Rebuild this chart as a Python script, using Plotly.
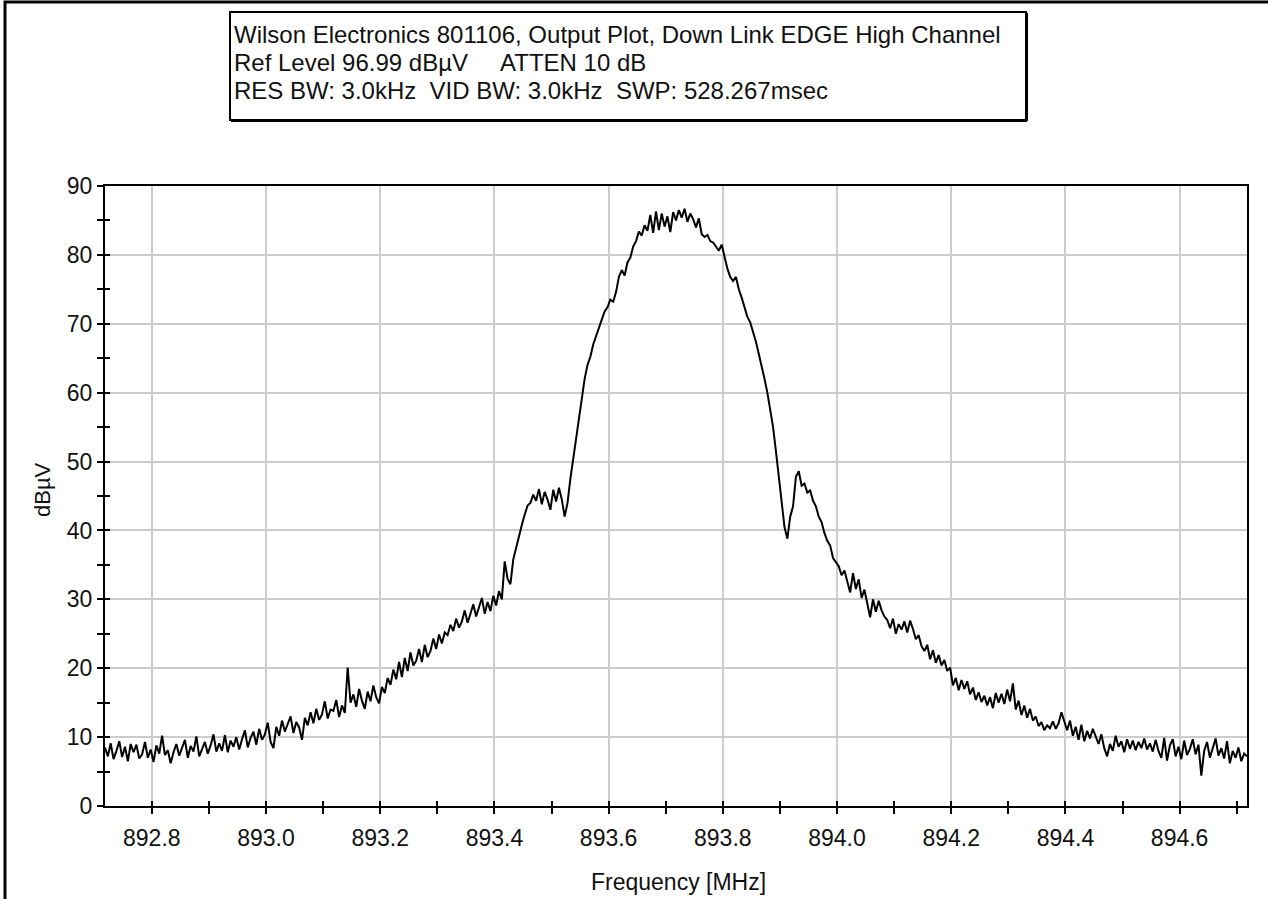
import plotly.graph_objects as go

# Frequency axis (MHz): sweep start and step of the trace points
freq_start = 892.718
freq_step = 0.005

level = [
    8.5, 7.2, 9.1, 6.8, 8.0, 9.4, 7.1, 8.6, 6.5, 9.0, 7.8, 8.9, 6.9, 7.5, 9.3, 7.0, 8.2, 6.4, 8.8, 7.6,
    10.2, 7.4, 8.1, 6.2, 7.8, 9.0, 7.3, 8.5, 9.6, 7.0, 8.7, 7.9, 10.1, 7.2, 8.4, 9.3, 7.6, 8.8, 10.4, 7.9,
    9.1, 8.0, 10.3, 7.8, 9.5, 8.6, 10.0, 8.2, 9.7, 11.0, 8.5, 9.9, 10.8, 8.9, 11.2, 9.6, 10.4, 12.1, 9.3, 8.4,
    11.5, 10.2, 12.4, 10.8, 11.9, 13.0, 10.6, 12.2, 11.4, 9.6, 12.8, 11.7, 13.6, 12.0, 14.1, 12.5, 13.3, 15.2, 12.7, 14.0,
    13.8, 15.4, 12.9, 14.6, 13.5, 20.1, 15.0, 16.2, 14.4, 17.0, 15.3, 14.1, 16.6, 15.2, 17.5, 15.8, 14.9, 17.3, 16.4, 18.6,
    17.6, 19.8, 18.4, 20.9, 18.7, 21.5, 19.6, 22.3, 20.4, 21.1, 22.8, 20.9, 23.4, 21.6, 22.5, 24.3, 22.8, 24.9, 23.6, 25.2,
    24.8, 26.3, 25.4, 27.2, 25.9, 26.8, 28.4, 26.6, 27.9, 29.3, 27.5, 28.8, 30.2, 27.9, 29.6, 28.3, 30.5, 29.1, 31.2, 30.0,
    35.5, 33.0, 32.2, 35.8, 37.5, 39.5, 40.8, 42.3, 43.6, 44.0, 45.2, 44.3, 46.0, 43.8, 45.6, 44.5, 43.0, 45.9, 44.2, 46.2,
    44.5, 42.0, 44.0, 47.5, 50.5, 53.5, 56.0, 59.0, 62.0, 64.0, 65.2, 67.0, 68.3, 69.5, 70.6, 71.8, 72.4, 73.5, 73.2, 74.6,
    76.8, 77.8, 77.0, 78.9, 79.6, 81.2, 82.0, 83.4, 82.8, 84.3, 83.5, 85.8, 83.2, 86.3, 83.6, 86.0, 84.1, 85.6, 83.3, 86.2,
    85.0, 86.5, 85.4, 86.7, 84.8, 86.0, 85.2, 84.0, 85.3, 83.0, 82.6, 82.9, 82.0, 81.8, 81.2, 80.6, 81.5, 79.8, 78.0, 76.8,
    76.2, 76.8, 75.0, 73.8, 72.5, 71.0, 70.2, 68.8, 67.4, 65.6, 64.0, 62.0, 60.0, 57.5, 55.0, 51.5, 48.0, 44.0, 40.5, 38.8,
    42.0, 43.5, 47.8, 48.6, 46.5, 46.8, 45.5, 45.8, 44.3, 43.5, 42.0, 41.2, 39.6, 38.5, 37.8, 36.0, 35.4, 34.8, 33.5, 34.2,
    32.6, 31.0, 33.8, 31.5, 32.9, 30.2, 31.4, 29.6, 27.4, 30.0, 28.2, 29.8, 28.4, 27.5, 27.0, 25.8, 27.2, 25.0, 26.4, 25.6,
    26.8, 25.2, 26.9, 25.7, 24.2, 24.8, 23.2, 22.5, 23.4, 21.3, 22.6, 20.8, 21.9, 20.4, 21.2, 19.6, 20.1, 17.5, 18.6, 16.8,
    18.3, 17.0, 18.1, 16.2, 17.2, 15.4, 16.5, 15.1, 16.0, 14.6, 15.8, 14.2, 16.4, 15.0, 16.3, 14.8, 16.9, 15.2, 17.8, 14.0,
    15.3, 13.2, 14.6, 12.8, 14.1, 12.4, 13.0, 11.6, 12.2, 11.0, 11.7, 11.3, 12.3, 11.2, 12.0, 13.6, 12.2, 11.0, 12.4, 10.2,
    11.5, 9.6, 11.8, 9.4, 10.9, 9.8, 11.2, 10.0, 9.0, 10.4, 8.4, 7.2, 9.0, 8.0, 10.2, 8.6, 9.4, 7.8, 9.7, 8.3,
    9.5, 8.1, 9.3, 8.4, 9.8, 8.2, 9.1, 7.9, 9.6, 8.0, 7.0, 9.9, 6.6, 8.8, 9.7, 7.2, 8.6, 6.8, 9.5, 7.4,
    8.3, 9.7, 7.5, 8.9, 4.4, 8.0, 9.3, 7.0, 8.6, 9.8, 7.3, 8.4, 6.9, 9.4, 6.2, 8.0, 7.0, 8.5, 6.5, 7.6,
    7.2,
]
freq = [round(freq_start + i * freq_step, 4) for i in range(len(level))]

x_range = [892.718, 894.718]
y_range = [0, 90]

title_lines = [
    "Wilson Electronics 801106, Output Plot, Down Link EDGE High Channel",
    "Ref Level 96.99 dBµV     ATTEN 10 dB",
    "RES BW: 3.0kHz  VID BW: 3.0kHz  SWP: 528.267msec",
]
x_title = "Frequency [MHz]"
y_title = "dBµV"

W, H = 1268, 899
L, R, T, B = 105, 1247, 186, 806


def px(xp):
    return (xp - L) / (R - L)


def py(yp):
    return (B - yp) / (B - T)


FONT = "Liberation Sans, Arial, sans-serif"

fig = go.Figure()
fig.add_trace(go.Scatter(x=freq, y=level, mode="lines",
                         line=dict(color="black", width=2),
                         showlegend=False, hoverinfo="skip"))
# dummy trace to activate overlay axes (inner tick halves)
fig.add_trace(go.Scatter(x=[None], y=[None], xaxis="x2", yaxis="y2",
                         mode="lines", showlegend=False, hoverinfo="skip"))

axis_common = dict(showline=True, linecolor="black", linewidth=2,
                   zeroline=False, tickcolor="black", tickwidth=2, ticklen=6,
                   tickfont=dict(family=FONT, size=23, color="#111"))

fig.update_layout(
    width=W, height=H,
    margin=dict(l=L, r=W - R, t=T, b=H - B, pad=0),
    paper_bgcolor="white", plot_bgcolor="white",
    font=dict(family=FONT, color="#111"),
    xaxis=dict(range=x_range, tick0=892.8, dtick=0.2, tickformat=".1f",
               ticks="outside", mirror=True, showgrid=True,
               gridcolor="#cccccc", gridwidth=1.5, ticklabelstandoff=4,
               minor=dict(tick0=892.7, dtick=0.1, ticks="outside", ticklen=6,
                          tickcolor="black", tickwidth=2, showgrid=False),
               **axis_common),
    yaxis=dict(range=y_range, tick0=0, dtick=10, ticks="outside", mirror=True,
               showgrid=True, gridcolor="#cccccc", gridwidth=1.5,
               minor=dict(tick0=0, dtick=5, ticks="outside", ticklen=6,
                          tickcolor="black", tickwidth=2, showgrid=False),
               **axis_common),
    xaxis2=dict(range=x_range, overlaying="x", anchor="y2", side="bottom",
                tick0=892.8, dtick=0.2, ticks="inside", ticklen=5,
                tickcolor="black", tickwidth=2, showticklabels=False,
                showgrid=False, showline=False, zeroline=False,
                minor=dict(tick0=892.7, dtick=0.1, ticks="inside", ticklen=5,
                           tickcolor="black", tickwidth=2)),
    yaxis2=dict(range=y_range, overlaying="y", anchor="x2", side="left",
                tick0=0, dtick=10, ticks="inside", ticklen=5,
                tickcolor="black", tickwidth=2, showticklabels=False,
                showgrid=False, showline=False, zeroline=False,
                minor=dict(tick0=0, dtick=5, ticks="inside", ticklen=5,
                           tickcolor="black", tickwidth=2)),
)

# outer frame (cut off at right/bottom)
fig.add_shape(type="rect", xref="paper", yref="paper",
              x0=px(5), x1=px(1280), y0=py(910), y1=py(2),
              line=dict(color="black", width=3), layer="above")
# title box
fig.add_shape(type="rect", xref="paper", yref="paper",
              x0=px(230), x1=px(1026), y0=py(120), y1=py(12),
              line=dict(color="black", width=2), layer="above")
fig.add_shape(type="line", xref="paper", yref="paper",
              x0=px(231), x1=px(1027), y0=py(121), y1=py(121),
              line=dict(color="black", width=2), layer="above")
fig.add_shape(type="line", xref="paper", yref="paper",
              x0=px(1027), x1=px(1027), y0=py(121), y1=py(13),
              line=dict(color="black", width=2), layer="above")

title_y = [35, 63, 91]
for line_text, ty in zip(title_lines, title_y):
    fig.add_annotation(xref="paper", yref="paper", x=px(232), y=py(ty),
                       xanchor="left", yanchor="middle", align="left",
                       showarrow=False, text=line_text,
                       font=dict(family=FONT, size=24, color="#111"))
fig.add_annotation(xref="paper", yref="paper", x=px(678), y=py(882),
                   xanchor="center", yanchor="middle", showarrow=False,
                   text=x_title, font=dict(family=FONT, size=23, color="#111"))
fig.add_annotation(xref="paper", yref="paper", x=px(42), y=py(490),
                   xanchor="center", yanchor="middle", showarrow=False,
                   textangle=-90, text=y_title,
                   font=dict(family=FONT, size=22, color="#111"))

fig.write_html("out.html")
